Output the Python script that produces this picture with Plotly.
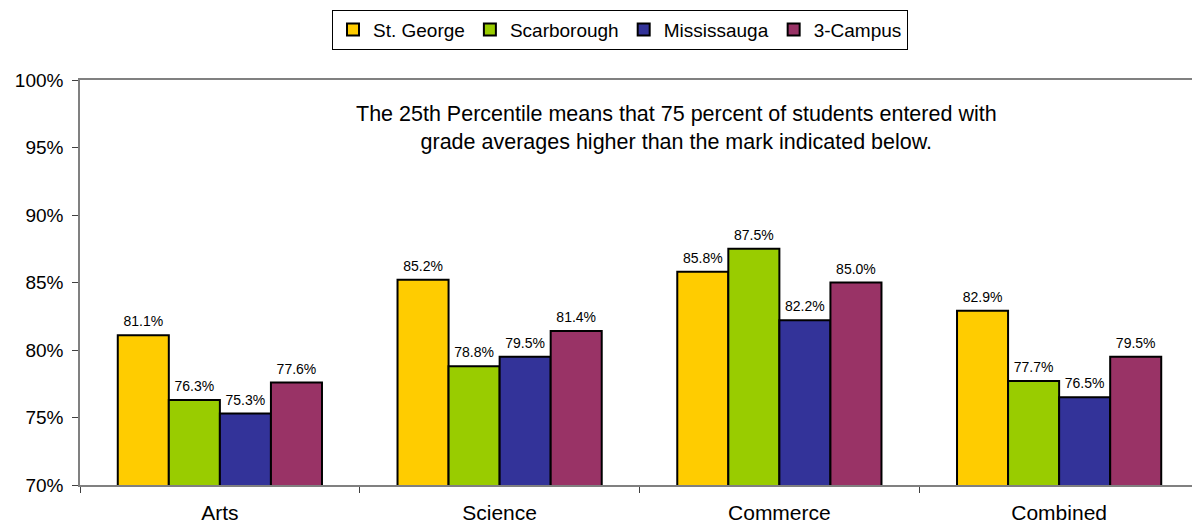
import plotly.graph_objects as go

categories = ["Arts", "Science", "Commerce", "Combined"]
series_names = ["St. George", "Scarborough", "Mississauga", "3-Campus"]
st_george = [0.811, 0.852, 0.858, 0.829]
scarborough = [0.763, 0.788, 0.875, 0.777]
mississauga = [0.753, 0.795, 0.822, 0.765]
three_campus = [0.776, 0.814, 0.850, 0.795]
colors = ["#FFCC00", "#99CC00", "#333399", "#993366"]

FONT = "Arial, Liberation Sans, sans-serif"

fig = go.Figure()
all_vals = [st_george, scarborough, mississauga, three_campus]
for name, vals, col in zip(series_names, all_vals, colors):
    fig.add_trace(go.Bar(
        name=name, x=categories, y=vals,
        marker=dict(color=col, line=dict(color="black", width=2)),
        offsetgroup=name,
    ))
for name, vals in zip(series_names, all_vals):
    fig.add_trace(go.Scatter(
        x=categories, y=vals, mode="markers+text",
        marker=dict(size=7, opacity=0),
        text=[f"{v*100:.1f}%" for v in vals],
        textposition="top center",
        textfont=dict(size=14, color="black", family=FONT),
        offsetgroup=name, showlegend=False, hoverinfo="skip", cliponaxis=False,
    ))

fig.update_layout(
    width=1200, height=525,
    margin=dict(l=72, r=9, t=72, b=48),
    barmode="group", bargap=0.27, bargroupgap=0,
    scattermode="group", scattergap=0.27,
    plot_bgcolor="white", paper_bgcolor="white",
    font=dict(family=FONT, size=19, color="black"),
    showlegend=True,
    legend=dict(orientation="h", xref="container", yref="container",
                x=0.51, xanchor="center", y=0.997, yanchor="top",
                bordercolor="black", borderwidth=1, font=dict(size=19),
                itemwidth=30, bgcolor="white"),
    annotations=[dict(
        text="The 25th Percentile means that 75 percent of students entered with<br>grade averages higher than the mark indicated below.",
        xref="paper", yref="paper", x=0.5335, y=0.881, xanchor="center", yanchor="middle",
        showarrow=False, font=dict(size=21.5, family=FONT, color="black"), align="center")],
)
fig.update_xaxes(showline=True, linecolor="#808080", linewidth=1.5, mirror=True,
                 ticks="outside", tickson="boundaries", ticklen=6, tickcolor="#404040",
                 tickfont=dict(size=21), automargin=False, ticklabelstandoff=8)
fig.update_yaxes(range=[0.70, 1.00], dtick=0.05, tickformat=".0%", showgrid=False,
                 showline=True, linecolor="#808080", linewidth=1.5, mirror=True,
                 ticks="outside", ticklen=6, tickcolor="#404040", zeroline=False,
                 tickfont=dict(size=19), automargin=False, ticklabelstandoff=5)

fig.write_html("out.html")
